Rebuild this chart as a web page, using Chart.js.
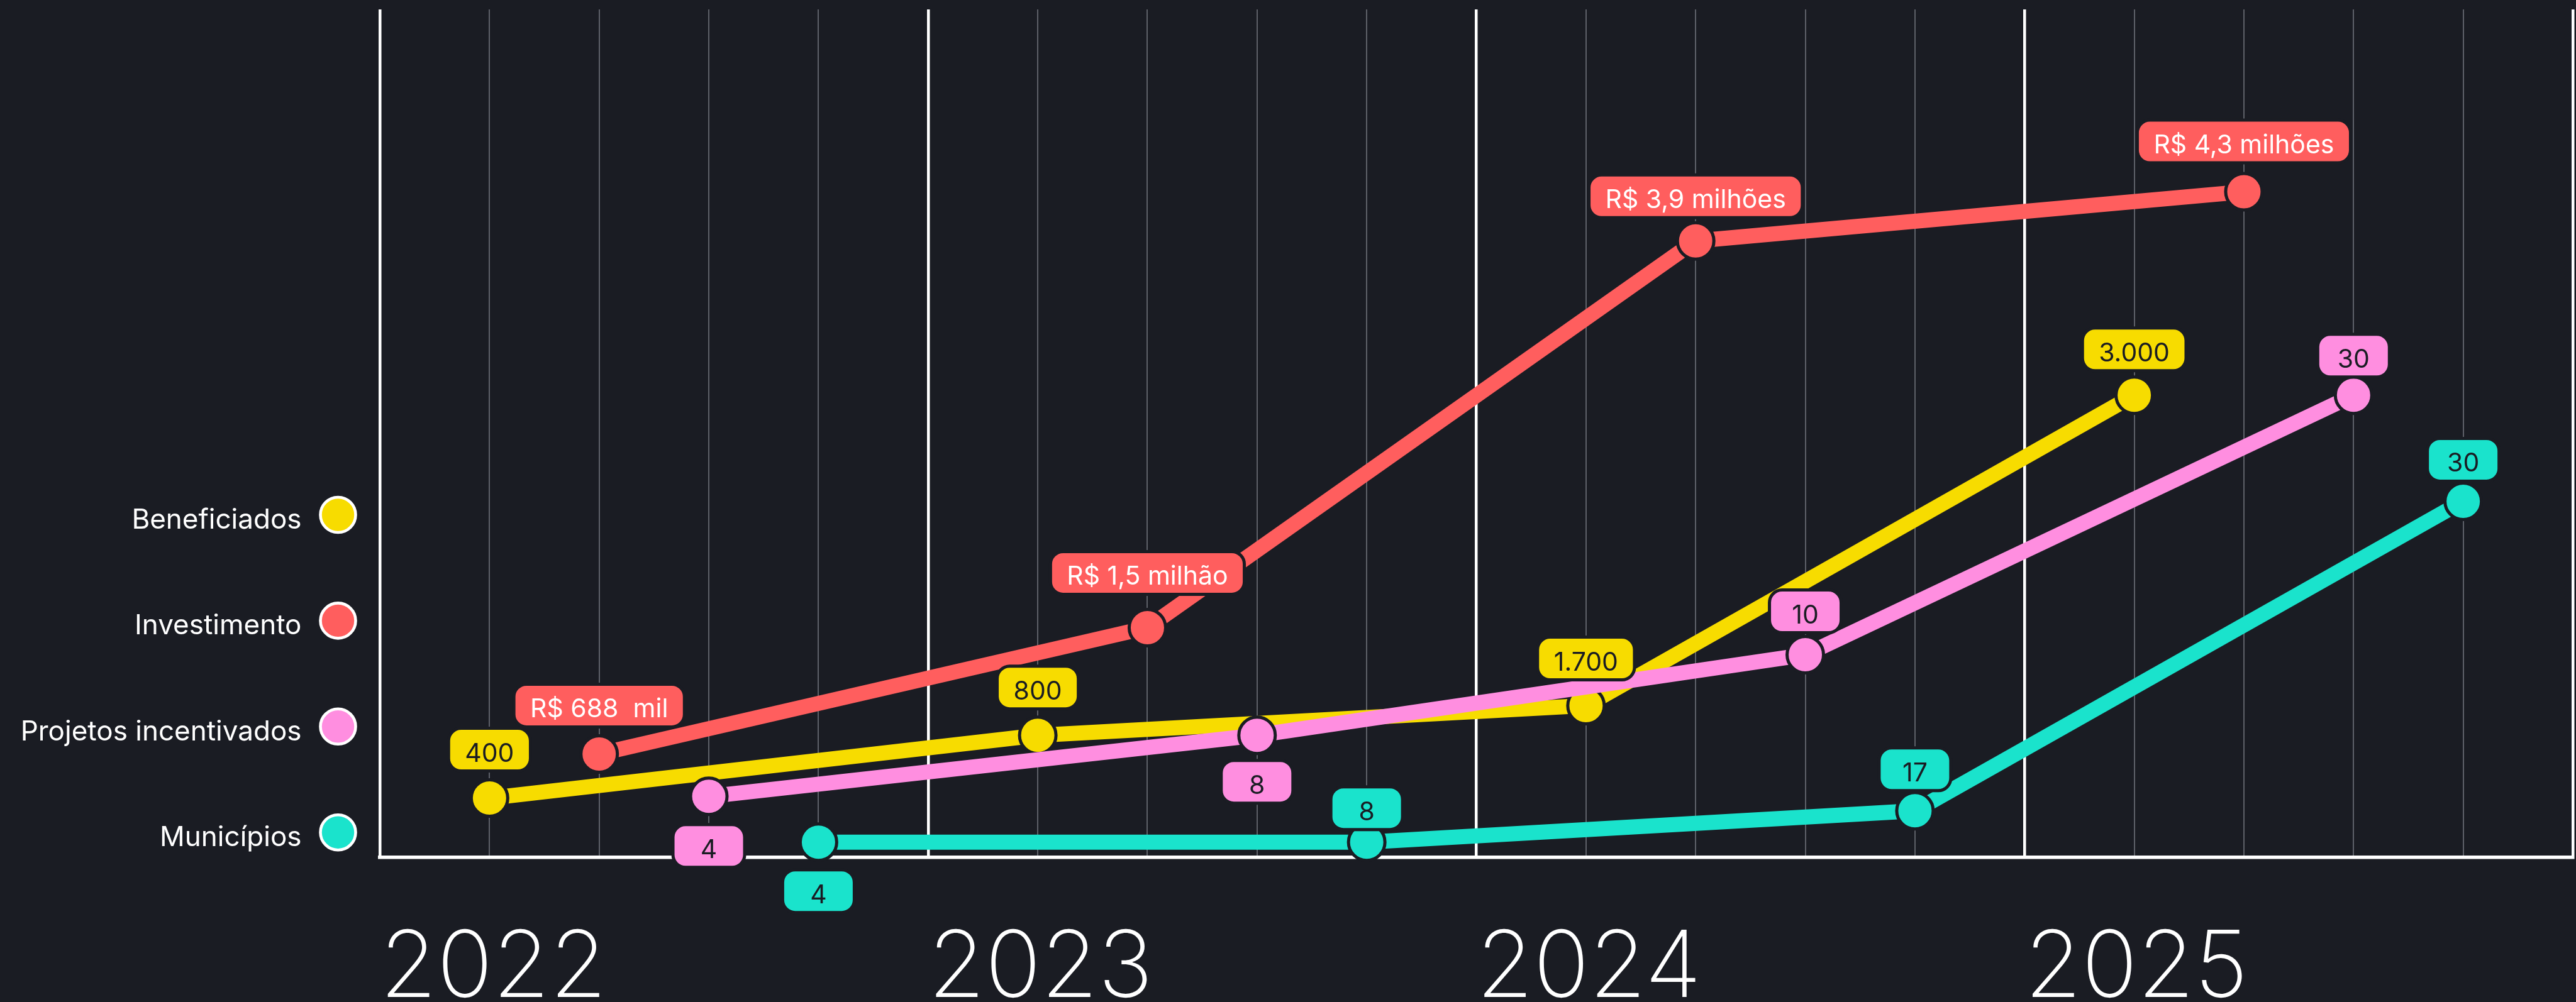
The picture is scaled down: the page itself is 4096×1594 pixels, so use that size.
<!DOCTYPE html>
<html lang="pt-BR">
<head>
<meta charset="utf-8">
<script src="https://cdn.jsdelivr.net/npm/chart.js@4.4.1/dist/chart.umd.min.js"></script>
<style>
html,body{margin:0;padding:0;background:#1a1c23;overflow:hidden;}
#wrap{width:4096px;height:1594px;position:relative;}
</style>
</head>
<body>
<div id="wrap"><canvas id="c"></canvas></div>
<script>
// ---- data ----
const anos = ['2022', '2023', '2024', '2025'];
const nomesSeries = ['Beneficiados', 'Investimento', 'Projetos incentivados', 'Municípios'];
const beneficiados = [400, 800, 1700, 3000];
const investimentoMilhoes = [0.688, 1.5, 3.9, 4.3];
const projetos = [4, 8, 10, 30];
const municipios = [4, 8, 17, 30];
// the chart is illustrative (not to scale): heights on a 0–100 vertical index
const alturaBeneficiados = [7.0, 14.4, 17.9, 54.5];
const alturaInvestimento = [12.2, 27.1, 72.7, 78.5];
const alturaProjetos = [7.2, 14.4, 23.9, 54.5];
const alturaMunicipios = [1.8, 1.8, 5.5, 42.0];

// ---- formatting ----
const fmtNum = v => String(v).replace(/\B(?=(\d{3})+(?!\d))/g, '.');
const fmtReais = m => m < 1 ? 'R$ ' + Math.round(m * 1000) + '  mil'
  : 'R$ ' + m.toFixed(1).replace('.', ',') + (m < 2 ? ' milhão' : ' milhões');

const BG = '#1a1c23';
const SUB = 5; // subdivisions per year on the x axis
const pontos = (alturas, slot) => alturas.map((h, i) => ({x: i * SUB + slot, y: h}));

const cores = ['#f7dc00', '#ff5e5e', '#ff8ee0', '#1ae3cc'];
const alturas = [alturaBeneficiados, alturaInvestimento, alturaProjetos, alturaMunicipios];
const textos = [beneficiados.map(fmtNum), investimentoMilhoes.map(fmtReais), projetos.map(fmtNum), municipios.map(fmtNum)];
const corTexto = ['#1a1c23', '#ffffff', '#1a1c23', '#1a1c23'];
// label offsets from the point (px, negative = above)
const deslocRotulo = [
  [-77, -76, -75, -73],
  [-77, -87, -71, -80],
  [79, 74, -69, -63],
  [78, -54, -66, -66]
];
const ordem = [4, 3, 2, 1];

const datasets = nomesSeries.map((nome, i) => ({
  label: nome,
  data: pontos(alturas[i], i + 1),
  borderColor: cores[i],
  backgroundColor: cores[i],
  borderWidth: 24,
  tension: 0,
  pointRadius: 29,
  pointHoverRadius: 29,
  pointBorderWidth: 5,
  pointBorderColor: BG,
  pointBackgroundColor: cores[i],
  clip: false,
  order: ordem[i]
}));

const rotulosPlugin = {
  id: 'rotulos',
  afterDatasetsDraw(chart) {
    const ctx = chart.ctx;
    ctx.save();
    ctx.font = '400 41px Inter';
    ctx.textAlign = 'center';
    ctx.textBaseline = 'alphabetic';
    datasets.forEach((ds, i) => {
      const meta = chart.getDatasetMeta(i);
      meta.data.forEach((pt, j) => {
        const t = textos[i][j];
        const tw = ctx.measureText(t).width;
        const w = Math.max(114, tw + 52);
        const h = 68;
        const cx = pt.x, cy = pt.y + deslocRotulo[i][j];
        ctx.beginPath();
        ctx.roundRect(cx - w / 2, cy - h / 2, w, h, 20);
        ctx.fillStyle = cores[i];
        ctx.fill();
        ctx.lineWidth = 5;
        ctx.strokeStyle = BG;
        ctx.stroke();
        ctx.fillStyle = corTexto[i];
        ctx.fillText(t, cx, cy + 19);
      });
    });
    ctx.restore();
  }
};

const legendaPlugin = {
  id: 'legendaLateral',
  afterDraw(chart) {
    const ctx = chart.ctx;
    ctx.save();
    ctx.font = '400 44px Inter';
    ctx.textAlign = 'right';
    ctx.textBaseline = 'alphabetic';
    const x0 = 537.5, y0 = 819, passo = 168.4;
    datasets.forEach((ds, i) => {
      const y = y0 + i * passo;
      ctx.beginPath();
      ctx.arc(x0, y, 28, 0, Math.PI * 2);
      ctx.fillStyle = ds.borderColor;
      ctx.fill();
      ctx.lineWidth = 4.6;
      ctx.strokeStyle = '#ffffff';
      ctx.stroke();
      ctx.fillStyle = '#ffffff';
      ctx.fillText(ds.label, 479.5, y + 22);
    });
    ctx.restore();
  }
};

new Chart(document.getElementById('c'), {
  type: 'line',
  data: {datasets},
  options: {
    responsive: true,
    maintainAspectRatio: false,
    animation: false,
    events: [],
    layout: {autoPadding: false, padding: {left: 604, right: 5, top: 15, bottom: 0}},
    plugins: {legend: {display: false}, tooltip: {enabled: false}},
    scales: {
      x: {
        type: 'linear',
        min: 0,
        max: anos.length * SUB,
        afterFit(s) { s.height = 230; },
        border: {display: true, color: '#ffffff', width: 5.5},
        grid: {
          drawTicks: false,
          color: c => (c.tick && c.tick.value % SUB === 0) ? '#ffffff' : '#5d6068',
          lineWidth: c => (c.tick && c.tick.value % SUB === 0) ? 4.5 : 2
        },
        ticks: {
          stepSize: 1,
          autoSkip: false,
          maxRotation: 0,
          minRotation: 0,
          align: 'start',
          padding: 0,
          color: '#ffffff',
          font: {family: 'Inter', size: 147, weight: 200, lineHeight: 2.42},
          callback: v => (v % SUB === 0 && v / SUB < anos.length) ? anos[v / SUB] : ''
        }
      },
      y: {
        type: 'linear',
        min: 0,
        max: 100,
        display: false
      }
    }
  },
  plugins: [rotulosPlugin, legendaPlugin]
});
</script>
</body>
</html>
